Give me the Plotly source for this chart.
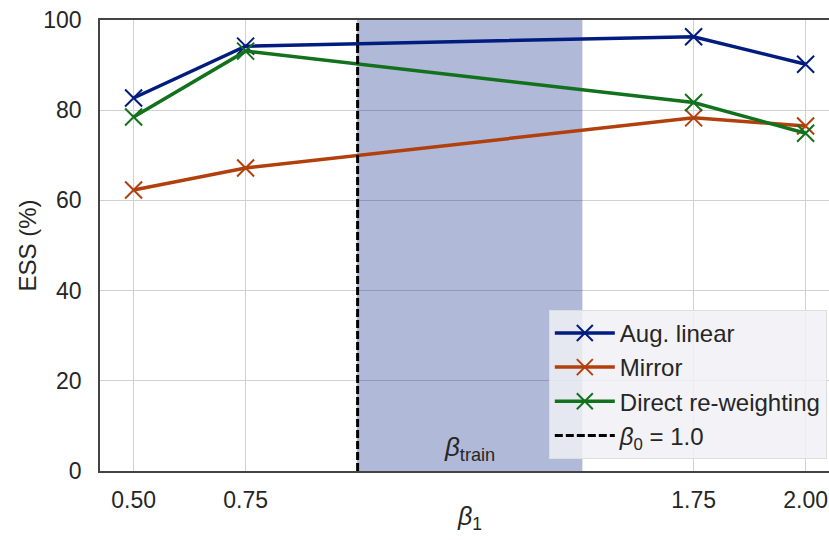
import plotly.graph_objects as go

beta1 = [0.50, 0.75, 1.75, 2.00]
aug_linear = [82.7, 94.2, 96.3, 90.2]
mirror = [62.3, 67.2, 78.3, 76.5]
direct = [78.5, 93.1, 81.7, 74.9]
tick_vals = [0.50, 0.75, 1.75, 2.00]
tick_text = ["0.50", "0.75", "1.75", "2.00"]
beta0 = 1.0
train_lo, train_hi = 1.0, 1.5

C_BLUE = "#001c7f"
C_ORANGE = "#b1400d"
C_GREEN = "#12711c"
FONT = "Liberation Sans, Arial, sans-serif"

fig = go.Figure()

for name, vals, col in [("Aug. linear", aug_linear, C_BLUE),
                        ("Mirror", mirror, C_ORANGE),
                        ("Direct re-weighting", direct, C_GREEN)]:
    fig.add_trace(go.Scatter(
        x=beta1, y=vals, name=name, mode="lines+markers",
        line=dict(color=col, width=3.5),
        marker=dict(symbol="x-thin-open", size=17, line=dict(color=col, width=2), color=col),
    ))

fig.add_trace(go.Scatter(
    x=[beta0, beta0], y=[0, 100], name="<i>β</i><sub>0</sub> = 1.0", mode="lines",
    line=dict(color="black", width=3, dash="8px,3px"),
))

fig.add_shape(type="rect", xref="x", yref="y", x0=train_lo, x1=train_hi, y0=0, y1=100,
              fillcolor=C_BLUE, opacity=0.3, line=dict(color=C_BLUE, width=1.5), layer="between")

fig.add_annotation(x=(train_lo + train_hi) / 2, y=0, xref="x", yref="y",
                   text="<i>β</i><sub>train</sub>", showarrow=False,
                   yanchor="bottom", yshift=4,
                   font=dict(family=FONT, size=26, color="#262626"))

fig.add_annotation(x=1.25, y=-0.105, xref="x", yref="paper",
                   text="<i>β</i><sub>1</sub>", showarrow=False, yanchor="middle",
                   font=dict(family=FONT, size=25, color="#262626"))

fig.add_annotation(x=-0.0988, y=0.5, xref="paper", yref="paper",
                   text="ESS (%)", textangle=-90, showarrow=False,
                   xanchor="center", yanchor="middle",
                   font=dict(family=FONT, size=24, color="#262626"))

fig.update_layout(
    width=829, height=540,
    margin=dict(l=100, r=0, t=20, b=69),
    paper_bgcolor="white", plot_bgcolor="white",
    font=dict(family=FONT, size=23, color="#262626"),
    showlegend=True,
    legend=dict(
        x=0.997, y=0.027, xanchor="right", yanchor="bottom",
        bgcolor="rgba(240,240,246,0.85)", bordercolor="#dddddd", borderwidth=1,
        font=dict(family=FONT, size=24, color="#262626"),
        itemwidth=60, tracegroupgap=0,
    ),
    xaxis=dict(
        range=[0.425, 2.0522], tickvals=tick_vals, ticktext=tick_text,
        showgrid=True, gridcolor="#d0d0d0", gridwidth=1.3,
        showline=True, linecolor="#444444", linewidth=1.5, mirror=True,
        ticks="", zeroline=False, ticklabelstandoff=8,
    ),
    yaxis=dict(
        range=[0, 100], tickvals=[0, 20, 40, 60, 80, 100],
        showgrid=True, gridcolor="#d0d0d0", gridwidth=1.3,
        showline=True, linecolor="#444444", linewidth=1.5,
        ticks="", zeroline=False, ticklabelstandoff=12,
    ),
)

fig.write_html("out.html")
